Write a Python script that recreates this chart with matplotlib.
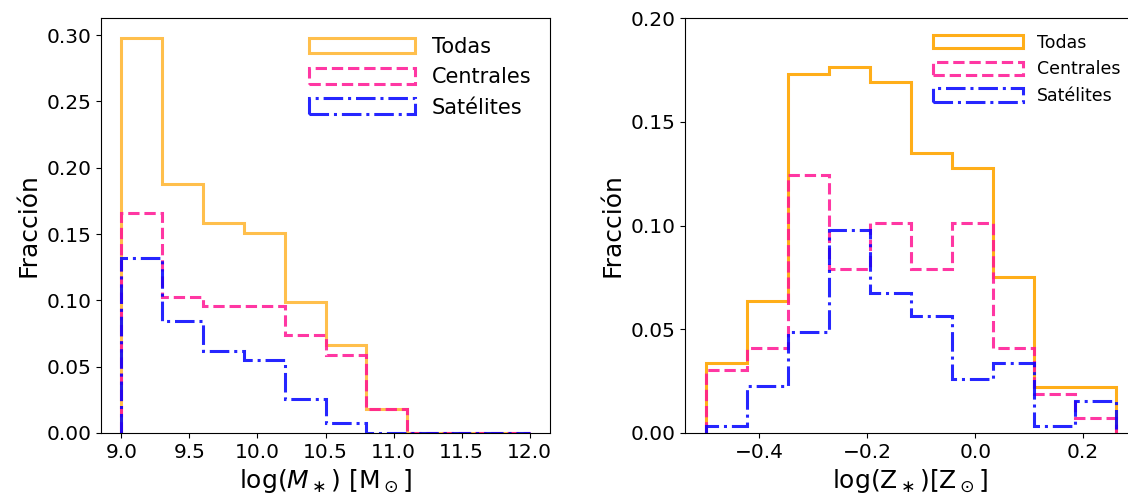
import matplotlib
matplotlib.use("Agg")
import matplotlib.pyplot as plt
import numpy as np

# Left panel: stellar mass
mass_edges = [9.0, 9.3, 9.6, 9.9, 10.2, 10.5, 10.8, 11.1, 11.4, 11.7, 12.0]
mass_todas = [0.298, 0.1875, 0.158, 0.1507, 0.0990, 0.0661, 0.0184, 0.0, 0.0, 0.0]
mass_centrales = [0.1656, 0.1028, 0.0955, 0.0955, 0.0736, 0.0588, 0.0184, 0.0, 0.0, 0.0]
mass_satelites = [0.1322, 0.0842, 0.0621, 0.0548, 0.0259, 0.0075, 0.0, 0.0, 0.0, 0.0]

# Right panel: metallicity
z_edges = [-0.5, -0.424, -0.348, -0.272, -0.196, -0.12, -0.044, 0.032, 0.108, 0.184, 0.26]
z_todas = [0.0339, 0.0636, 0.1729, 0.1764, 0.1692, 0.1351, 0.1277, 0.0752, 0.0222, 0.0222]
z_centrales = [0.0302, 0.0411, 0.1242, 0.0790, 0.1014, 0.0790, 0.1014, 0.0411, 0.0186, 0.0074]
z_satelites = [0.0036, 0.0225, 0.0487, 0.0977, 0.0675, 0.0562, 0.0262, 0.0339, 0.0036, 0.0154]

labels = ["Todas", "Centrales", "Satélites"]

fig = plt.figure(figsize=(11.28, 4.95), dpi=100)
ax1 = fig.add_axes([101/1128, 62/495, 449/1128, 415/495])
ax2 = fig.add_axes([685/1128, 62/495, 451/1128, 415/495])

lw = 2.2

def draw(ax, edges, vals, label, color, ls, alpha):
    edges = np.asarray(edges)
    centers = 0.5 * (edges[:-1] + edges[1:])
    ax.hist(centers, bins=edges, weights=vals, histtype="step", color=color,
            linestyle=ls, linewidth=lw, alpha=alpha, label=label)

draw(ax1, mass_edges, mass_todas, labels[0], "orange", "-", 0.7)
draw(ax1, mass_edges, mass_centrales, labels[1], "deeppink", "--", 0.85)
draw(ax1, mass_edges, mass_satelites, labels[2], "blue", "-.", 0.85)

draw(ax2, z_edges, z_todas, labels[0], "orange", "-", 0.9)
draw(ax2, z_edges, z_centrales, labels[1], "deeppink", "--", 0.85)
draw(ax2, z_edges, z_satelites, labels[2], "blue", "-.", 0.85)

ax1.set_ylim(0, None)
ax2.set_ylim(0, 0.2)
ax2.set_yticks([0.0, 0.05, 0.10, 0.15, 0.20])

for ax in (ax1, ax2):
    ax.tick_params(labelsize=14.5)
    ax.set_ylabel("Fracción", fontsize=18)

ax1.set_xlabel(r"$\log(M_\ast)$ [M$_\odot$]", fontsize=18)
ax2.set_xlabel(r"log(Z$_\ast$)[Z$_\odot$]", fontsize=18)

ax1.legend(loc="upper right", frameon=False, fontsize=15,
           handlelength=5.1, handleheight=0.8, borderaxespad=0.5)
ax2.legend(loc="upper right", frameon=False, fontsize=12.5,
           handlelength=5.2, handleheight=0.8, borderaxespad=0.5)

fig.savefig("out.png", dpi=100)
